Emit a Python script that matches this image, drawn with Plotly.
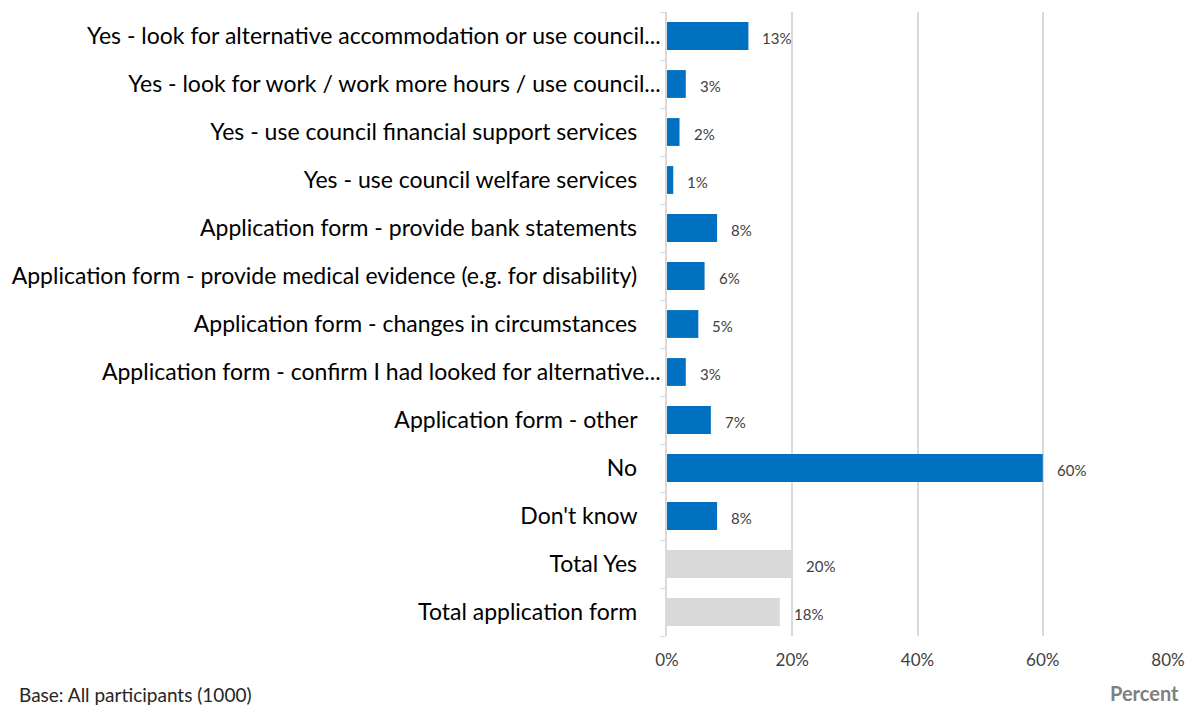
import plotly.graph_objects as go

categories = [
    "Yes - look for alternative accommodation or use council...",
    "Yes - look for work / work more hours / use council...",
    "Yes - use council financial support services",
    "Yes - use council welfare services",
    "Application form - provide bank statements",
    "Application form - provide medical evidence (e.g. for disability)",
    "Application form - changes in circumstances",
    "Application form - confirm I had looked for alternative...",
    "Application form - other",
    "No",
    "Don't know",
    "Total Yes",
    "Total application form",
]
values = [13, 3, 2, 1, 8, 6, 5, 3, 7, 60, 8, 20, 18]
is_total = [False] * 11 + [True, True]

x_ticks = [0, 20, 40, 60, 80]
x_tick_labels = ["0%", "20%", "40%", "60%", "80%"]

BLUE = "#0070C0"
GREY = "#D9D9D9"
colors = [GREY if t else BLUE for t in is_total]

FONT = "Lato, 'Open Sans', sans-serif"

# truncated labels sit closer to the axis than the full ones
tick_text = [c if c.endswith("...") else c + "\u00a0" * 4 for c in categories]

fig = go.Figure()
fig.add_trace(go.Bar(
    y=categories,
    x=values,
    orientation="h",
    marker=dict(color=colors, line=dict(width=0)),
    width=0.58,
    hoverinfo="skip",
))

for cat, v in zip(categories, values):
    fig.add_annotation(
        x=v, y=cat, text=f"{v}%", showarrow=False,
        xanchor="left", xshift=12, yshift=-2,
        font=dict(family=FONT, size=15, color="#404040"),
    )

fig.add_annotation(
    xref="paper", yref="paper", x=1.025, y=-0.091, xanchor="right", yanchor="middle",
    text="<b>Percent</b>", showarrow=False,
    font=dict(family=FONT, size=20, color="#7F7F7F"),
)
fig.add_annotation(
    xref="paper", yref="paper", x=-1.297, y=-0.094, xanchor="left", yanchor="middle",
    text="Base: All participants (1000)", showarrow=False,
    font=dict(family=FONT, size=19, color="#262626"),
)

fig.update_layout(
    width=1197, height=709,
    margin=dict(l=665, r=27, t=12, b=73),
    plot_bgcolor="white", paper_bgcolor="white",
    showlegend=False,
    bargap=0.42,
    font=dict(family=FONT),
)
fig.update_xaxes(
    range=[0, 80], tickvals=x_ticks, ticktext=x_tick_labels,
    showgrid=True, gridcolor="#D9D9D9", gridwidth=1.5,
    zeroline=False, showline=False,
    tickfont=dict(family=FONT, size=17, color="#404040"),
    ticks="", ticklabelstandoff=12,
)
fig.update_yaxes(
    categoryorder="array", categoryarray=categories, autorange="reversed",
    tickmode="array", tickvals=categories, ticktext=tick_text,
    showline=True, linecolor="#D9D9D9", linewidth=1.5,
    ticks="outside", tickson="boundaries", ticklen=5, tickcolor="#D9D9D9",
    tickfont=dict(family=FONT, size=23, color="#000000"),
    ticklabelstandoff=0,
    showgrid=False,
)

fig.write_html("out.html")
